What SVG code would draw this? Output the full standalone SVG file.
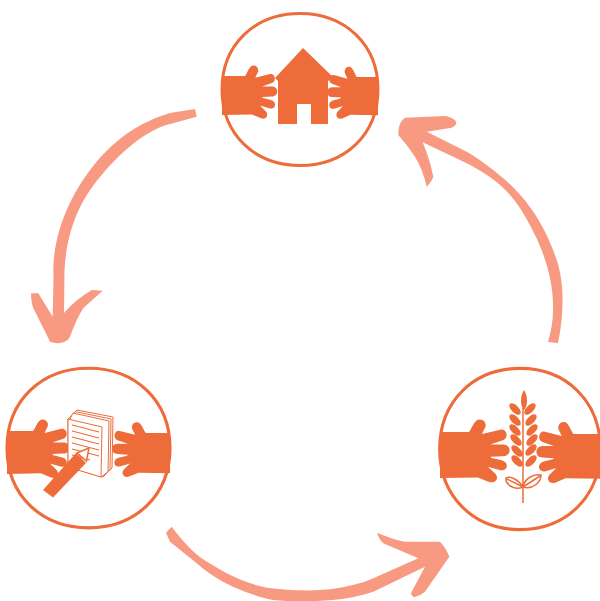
<svg xmlns="http://www.w3.org/2000/svg" xmlns:xlink="http://www.w3.org/1999/xlink" width="600" height="601" viewBox="0 0 600 601">
<style>
.o{fill:#ed6c39}
.ring{fill:#fff;stroke:#ed6c39;stroke-width:3}
.arrow{fill:#f89a81}
.pg{fill:#fff;stroke:#ed6c39;stroke-width:1}
.ln{fill:none;stroke:#ed6c39;stroke-width:1.200}
</style>
<defs>
<path id="ringp" d="M-78,0C-78,-45 -45,-76 0,-76C45,-76 78,-45 78,0C78,45 45,76 0,76C-45,76 -78,45 -78,0Z"/>
<path id="hand" class="o" d="M0,0H23C25,-2 27,-10 31,-10.500C35,-11 37,-7 36,-4C35,-2 34,0 33.300,1.800L48,-2C53,-3 55,5 50,7L40,10.500L50,10.500C57,10.500 57,20.500 50,20.500L40,21L41,22L49,24C55,25.500 54,33.500 48,32.500L38,29.500L43.500,35C47.500,39 44,44 39,42.300L30,38.500L0,39Z"/>
<ellipse id="leaf" rx="3.600" ry="7.200"/>
</defs>
<g id="connectors">
<path class="arrow" d="M195,109L170,113C130,125 100,150 75,193C60,220 52,250 53.500,277L52.700,316.700L38.300,293.300H31Q31,302 33.300,308L50,341.700Q56,344 61.700,342.700Q68,341 70,336.700Q76,320 83.300,308L102.700,290.700L91.700,290Q75,300 64,313L64.500,270C66,240 75,205 101.700,175C118,155 145,130 170,124L196.700,116.700Z"/>
<path class="arrow" d="M558,343C563,320 565,290 558.300,265C550,238 535,205 503.300,178.300C490,167 478,158 466.700,151.700L426.700,131.700L451.700,127.700Q458,124 455.700,121Q452,117 445,116L405,117.700Q398,122 398.300,135Q408,146 415,156.700Q423,170 426.700,186.700Q432,181 433.300,176.700Q430,160 422.700,142.300L466.700,163.300C480,170 492,178 500,185C515,198 525,215 533.300,231.700C543,250 554,280 553,310Q553,325 548,342Z"/>
<path class="arrow" d="M166,532.700L171.700,526.700Q180,538 191.700,550C203,561 215,566 226.700,573.300C240,580 255,586 271.700,588.300C285,590 315,592 336.700,588.300C350,586 360,584 373.300,578.300L418.300,558.300L383.300,543.300Q378,538 377.300,532.700C390,538 398,541 406.700,541.700L440,541.700Q446,548 449.300,556.700L425,591.700Q420,596 414,597.300Q410,595 411.700,591.700L425,566.700L373.300,591.700C360,596 345,599 333,600L300,602L273,600C258,597 245,592 233,586.700C218,580 207,572 196.700,563.300L170,541.700Z"/>
</g>
<g id="node-house">
<use xlink:href="#ringp" class="ring" transform="translate(300,89.500)"/>
<use xlink:href="#hand" transform="translate(222,76)"/>
<use xlink:href="#hand" transform="translate(378,77) scale(-.92,.98)"/>
<path class="o" d="M303,48L334,78L328,81V124H311V104H297V124H278V81L275,78Z"/>
</g>
<g id="node-notebook">
<use xlink:href="#ringp" class="ring" transform="translate(88.500,448) scale(1.045,1.05)"/>
<use xlink:href="#hand" transform="translate(7,431) scale(1.13,1.1)"/>
<use xlink:href="#hand" transform="translate(170,433) scale(-1.05,1.03)"/>
<path class="pg" d="M77,410L113,417L112,468L103,477L68,467V419Z"/>
<path class="pg" d="M75,411.500L111,419L110,470L102,476L70,467V420Z"/>
<path class="pg" d="M73,413L109,421L108,472L101,477L70,467V419Z"/>
<path class="pg" d="M68,419L102,427L101,477L68,467Z"/>
<path class="ln" d="M72,425L99,432M72,431L99,438M72,437L99,444M72,443L99,450M72,449L99,456M72,455L90,460"/>
<path class="o" d="M43,490L53,497.500L86,463L76,453Z"/>
<path fill="#fff" stroke="#ed6c39" stroke-width="1.500" d="M77,453L89,448L86.500,461Z"/>
</g>
<g id="node-wheat">
<use xlink:href="#ringp" class="ring" transform="translate(520,449) scale(1.03,1.06)"/>
<use xlink:href="#hand" transform="translate(440,432) scale(1.26,1.18)"/>
<use xlink:href="#hand" transform="translate(600,434) scale(-1.15,1.15)"/>
<path fill="none" stroke="#ed6c39" stroke-width="1.500" d="M523,408V503M523,487C518,479 510,476 506,478C505,484 514,491 523,487M507,479L523,487M523,487C525,478 533,474 541,475C541,482 533,490 523,487M523,487L540,476"/>
<path class="o" d="M524,390C528,396 528,406 524,410C520,406 520,396 524,390Z"/>
<g class="o">
<use xlink:href="#leaf" transform="translate(515,409) rotate(-45)"/>
<use xlink:href="#leaf" transform="translate(515,420) rotate(-45)"/>
<use xlink:href="#leaf" transform="translate(515,430) rotate(-45)"/>
<use xlink:href="#leaf" transform="translate(516,440) rotate(-45)"/>
<use xlink:href="#leaf" transform="translate(517,451) rotate(-45)"/>
<use xlink:href="#leaf" transform="translate(517,461) rotate(-45)"/>
<use xlink:href="#leaf" transform="translate(530,409) rotate(45)"/>
<use xlink:href="#leaf" transform="translate(531,420) rotate(45)"/>
<use xlink:href="#leaf" transform="translate(532,430) rotate(45)"/>
<use xlink:href="#leaf" transform="translate(532,440) rotate(45)"/>
<use xlink:href="#leaf" transform="translate(531,450) rotate(45)"/>
<use xlink:href="#leaf" transform="translate(531,461) rotate(45)"/>
</g>
</g>
</svg>
